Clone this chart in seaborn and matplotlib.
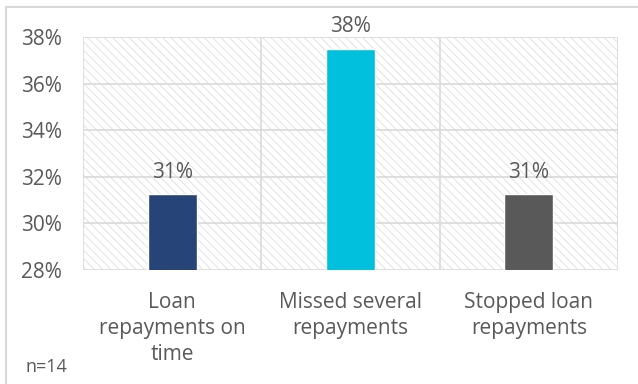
import matplotlib
matplotlib.use("Agg")
import matplotlib.pyplot as plt
import seaborn as sns
import pandas as pd
from matplotlib.patches import Rectangle

categories = ["Loan\nrepayments on\ntime", "Missed several\nrepayments", "Stopped loan\nrepayments"]
values = [31.25, 37.5, 31.25]
labels = ["31%", "38%", "31%"]
colors = ["#264478", "#00C0DE", "#595959"]
yticks = [28, 30, 32, 34, 36, 38]
note = "n=14"

sns.set_theme(style="white")
plt.rcParams["font.family"] = ["Open Sans", "DejaVu Sans"]
plt.rcParams["hatch.color"] = "#E2E2E2"
plt.rcParams["hatch.linewidth"] = 0.7

text_color = "#595959"
grid_color = "#DCDCDC"
fs = 15

fig = plt.figure(figsize=(6.38, 3.84), dpi=100)
ax = fig.add_axes([83 / 638, 1 - 270 / 384, 535 / 638, 233 / 384])

df = pd.DataFrame({"cat": categories, "val": values})
sns.barplot(data=df, x="cat", y="val", hue="cat", palette=colors,
            width=0.275, legend=False, ax=ax, zorder=3, saturation=1)

ax.set_ylim(28, 38)
ax.set_xlim(-0.5, 2.5)
ax.set_yticks(yticks)
ax.set_yticklabels([f"{t}%" for t in yticks])
ax.set_xlabel("")
ax.set_ylabel("")

# hatched plot background
ax.patch.set_facecolor("white")
ax.patch.set_hatch("\\\\\\\\")
ax.patch.set_edgecolor("#E2E2E2")
ax.patch.set_linewidth(0)

# horizontal gridlines and vertical category separators
for t in yticks:
    ax.axhline(t, color=grid_color, lw=1.3, zorder=1)
for xb in [-0.5, 0.5, 1.5, 2.5]:
    ax.axvline(xb, color=grid_color, lw=1.3, zorder=1)

for s in ax.spines.values():
    s.set_visible(False)

ax.tick_params(axis="both", length=0, colors=text_color, labelsize=fs)
ax.tick_params(axis="y", pad=15)
ax.tick_params(axis="x", pad=16)
for lbl in ax.get_xticklabels():
    lbl.set_linespacing(1.3)

for i, (v, lab) in enumerate(zip(values, labels)):
    ax.text(i, v + 0.5, lab, ha="center", va="bottom", color=text_color,
            fontsize=fs, zorder=4)

fig.text(25 / 638, 1 - 372 / 384, note, color=text_color, fontsize=13,
         ha="left", va="baseline")

# outer chart frame
fig.patches.append(Rectangle((6 / 638, -0.05), 1.0, 1 - 7 / 384 + 0.05,
                             transform=fig.transFigure, fill=False,
                             edgecolor="#D9D9D9", lw=1.5))

fig.savefig("out.png", dpi=100)
